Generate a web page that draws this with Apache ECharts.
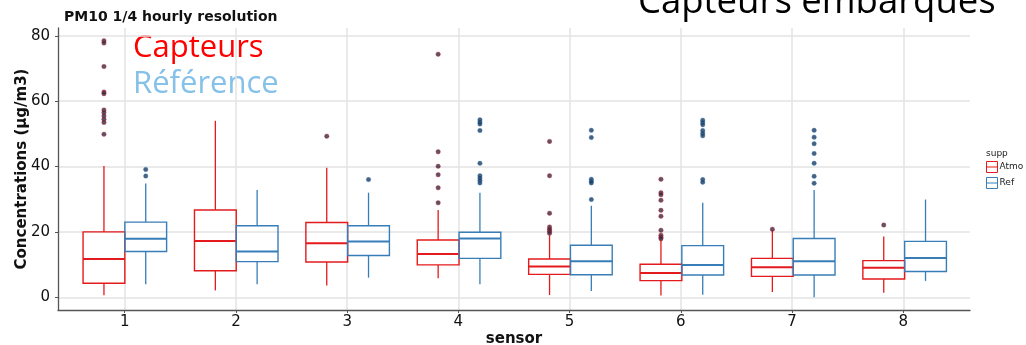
<!DOCTYPE html>
<html>
<head>
<meta charset="utf-8">
<script src="https://cdn.jsdelivr.net/npm/echarts@6/dist/echarts.min.js"></script>
<style>
  html, body { margin: 0; padding: 0; background: #fff; }
  #chart { width: 1026px; height: 345px; }
</style>
</head>
<body>
<div id="chart"></div>
<script>
const sensors = ['1', '2', '3', '4', '5', '6', '7', '8']

// [min, Q1, median, Q3, max]
const atmoBoxes = [
  [0.6, 4.3, 11.7, 20.0, 40.2],
  [2.1, 8.1, 17.2, 26.7, 54.0],
  [3.6, 10.8, 16.5, 22.9, 39.6],
  [5.8, 9.9, 13.2, 17.5, 26.7],
  [0.7, 7.0, 9.4, 11.7, 19.0],
  [0.5, 5.1, 7.4, 10.1, 17.5],
  [1.6, 6.4, 9.2, 11.9, 20.5],
  [1.4, 5.6, 9.0, 11.2, 18.6]
]
const refBoxes = [
  [4.0, 14.0, 17.9, 23.0, 34.8],
  [4.0, 10.9, 14.0, 21.9, 32.8],
  [6.0, 12.8, 17.1, 21.9, 32.0],
  [4.0, 11.9, 18.0, 19.9, 32.0],
  [1.9, 6.9, 11.0, 15.9, 28.0],
  [0.8, 6.8, 9.9, 15.8, 28.9],
  [0.0, 6.8, 11.0, 18.0, 32.8],
  [5.0, 7.9, 12.0, 17.1, 29.9]
]

const atmoOutliers = [
  [78.5, 77.8, 70.6, 62.8, 62.3, 57.3, 56.5, 55.5, 54.5, 53.5, 49.9],
  [],
  [49.3],
  [74.4, 44.5, 40.1, 37.5, 33.5, 28.9],
  [47.7, 37.2, 25.7, 21.5, 20.8, 20.2, 19.6],
  [36.1, 32.0, 31.4, 29.7, 26.6, 24.8, 20.5, 19.0, 18.4, 17.9],
  [20.8],
  [22.1]
]
const refOutliers = [
  [39.1, 37.1],
  [],
  [36.0],
  [54.3, 53.6, 53.0, 51.0, 41.0, 37.2, 36.5, 35.8, 35.0],
  [51.1, 48.9, 36.1, 35.5, 35.0, 29.9],
  [54.2, 53.5, 52.8, 51.0, 50.2, 49.4, 36.0, 35.2],
  [51.1, 49.0, 47.0, 44.0, 41.0, 37.0, 34.9],
  []
]

const yMin = -3.9
const yMax = 82.4

const atmoColor = '#e41a1c'
const refColor = '#377eb8'

const toPoints = (list) => {
  const pts = []
  list.forEach((vals, i) => vals.forEach(v => pts.push([i, v])))
  return pts
}

const chart = echarts.init(document.getElementById('chart'))

// band width of one sensor in px, boxes are dodged by a quarter of it
const band = 111.4
const plotLeft = 58
const plotRight = 970
const catLeft = plotLeft + 0.1 * band
const shift = band * 0.1875
const boxW = band * 0.375

const hiddenCat = (gridIndex) => ({
  type: 'category',
  gridIndex: gridIndex,
  data: sensors,
  show: false
})
const hiddenVal = (gridIndex) => ({
  type: 'value',
  gridIndex: gridIndex,
  min: yMin,
  max: yMax,
  show: false
})

// ggplot-like box: no whisker caps, thicker median
const boxRenderer = (color) => (params, api) => {
  const x = api.value(0)
  const pMin = api.coord([x, api.value(1)])
  const pQ1 = api.coord([x, api.value(2)])
  const pMed = api.coord([x, api.value(3)])
  const pQ3 = api.coord([x, api.value(4)])
  const pMax = api.coord([x, api.value(5)])
  const cx = pMed[0]
  const half = boxW / 2
  const stroke = { stroke: color, lineWidth: 1.3, fill: null }
  return {
    type: 'group',
    children: [
      { type: 'line', shape: { x1: cx, y1: pQ1[1], x2: cx, y2: pMin[1] }, style: stroke },
      { type: 'line', shape: { x1: cx, y1: pQ3[1], x2: cx, y2: pMax[1] }, style: stroke },
      { type: 'rect', shape: { x: cx - half, y: pQ3[1], width: boxW, height: pQ1[1] - pQ3[1] }, style: { stroke: color, lineWidth: 1.4, fill: 'rgba(255,255,255,0)' } },
      { type: 'line', shape: { x1: cx - half, y1: pMed[1], x2: cx + half, y2: pMed[1] }, style: { stroke: color, lineWidth: 2 } }
    ]
  }
}

const gridBase = { top: 28, bottom: 35, outerBoundsMode: 'none', containLabel: false }

const option = {
  animation: false,
  textStyle: { fontFamily: 'DejaVu Sans' },
  title: [
    {
      text: 'PM10 1/4 hourly resolution',
      left: 59,
      top: 5,
      textStyle: { fontSize: 14, fontWeight: 'bold', color: '#111', fontFamily: 'DejaVu Sans' }
    },
    {
      text: 'supp',
      left: 981,
      top: 144,
      textStyle: { fontSize: 9, fontWeight: 'normal', color: '#222', fontFamily: 'DejaVu Sans' }
    }
  ],
  legend: {
    data: [
      { name: 'Atmo', itemStyle: { borderColor: atmoColor } },
      { name: 'Ref', itemStyle: { borderColor: refColor } }
    ],
    orient: 'vertical',
    left: 986,
    top: 161,
    padding: 0,
    itemWidth: 11,
    itemHeight: 11,
    itemGap: 4,
    icon: 'path://M1,1H11V11H1Z M1,6H11',
    itemStyle: { color: 'transparent', borderWidth: 1 },
    textStyle: { fontSize: 9, color: '#222', padding: [0, 0, 0, -3] },
    selectedMode: false
  },
  graphic: [
    {
      type: 'text',
      left: 638,
      top: -16,
      style: { text: 'Capteurs embarqués', fontSize: 36.5, fontFamily: 'Open Sans', fill: '#000' }
    },
    {
      type: 'text',
      left: 133,
      top: 33,
      style: { text: 'Capteurs', fontSize: 31, fontFamily: 'Open Sans', fill: '#ff0000' }
    },
    {
      type: 'text',
      left: 133,
      top: 69,
      style: { text: 'Référence', fontSize: 31, fontFamily: 'Open Sans', fill: '#85c1e9' }
    }
  ],
  grid: [
    Object.assign({ left: plotLeft, right: 1026 - plotRight }, gridBase),
    Object.assign({ left: catLeft - shift, width: band * 8 }, gridBase),
    Object.assign({ left: catLeft + shift, width: band * 8 }, gridBase)
  ],
  xAxis: [
    {
      type: 'value',
      gridIndex: 0,
      min: 0.4,
      max: 8.6,
      splitNumber: 8,
      minInterval: 1,
      maxInterval: 1,
      name: 'sensor',
      nameLocation: 'middle',
      nameGap: 22,
      nameMoveOverlap: false,
      nameTextStyle: { fontSize: 15, fontWeight: 'bold', color: '#111', verticalAlign: 'top' },
      axisLine: { show: true, onZero: false, lineStyle: { color: '#555', width: 1.3 } },
      axisTick: { show: true, length: 3, lineStyle: { color: '#555' } },
      axisLabel: { fontSize: 15, color: '#111', margin: 5, showMinLabel: false, showMaxLabel: false },
      splitLine: { show: true, showMinLine: false, showMaxLine: false, lineStyle: { color: '#e3e3e3', width: 1.5 } }
    },
    hiddenCat(1),
    hiddenCat(2)
  ],
  yAxis: [
    {
      type: 'value',
      gridIndex: 0,
      min: yMin,
      max: yMax,
      name: 'Concentrations (µg/m3)',
      nameLocation: 'middle',
      nameGap: 28,
      nameMoveOverlap: false,
      nameTextStyle: { fontSize: 15, fontWeight: 'bold', color: '#111' },
      axisLine: { show: true, onZero: false, lineStyle: { color: '#555', width: 1.3 } },
      axisTick: { show: true, length: 3, lineStyle: { color: '#555' } },
      axisLabel: { fontSize: 15, color: '#111', margin: 8, showMinLabel: false, showMaxLabel: false },
      splitLine: { show: true, showMinLine: false, showMaxLine: false, lineStyle: { color: '#e3e3e3', width: 1.5 } }
    },
    hiddenVal(1),
    hiddenVal(2)
  ],
  series: [
    {
      name: 'Atmo',
      type: 'custom',
      xAxisIndex: 1,
      yAxisIndex: 1,
      renderItem: boxRenderer(atmoColor),
      itemStyle: { color: 'transparent', borderColor: atmoColor },
      encode: { x: 0, y: [1, 2, 3, 4, 5] },
      data: atmoBoxes.map((b, i) => [i].concat(b))
    },
    {
      name: 'Ref',
      type: 'custom',
      xAxisIndex: 2,
      yAxisIndex: 2,
      renderItem: boxRenderer(refColor),
      itemStyle: { color: 'transparent', borderColor: refColor },
      encode: { x: 0, y: [1, 2, 3, 4, 5] },
      data: refBoxes.map((b, i) => [i].concat(b))
    },
    {
      name: 'Atmo outliers',
      type: 'scatter',
      xAxisIndex: 1,
      yAxisIndex: 1,
      symbolSize: 4.5,
      itemStyle: { color: '#2e2a48', borderColor: 'rgba(228,26,28,0.55)', borderWidth: 0.8 },
      emphasis: { disabled: true },
      data: toPoints(atmoOutliers)
    },
    {
      name: 'Ref outliers',
      type: 'scatter',
      xAxisIndex: 2,
      yAxisIndex: 2,
      symbolSize: 4.5,
      itemStyle: { color: '#1c3a60', borderColor: 'rgba(55,126,184,0.55)', borderWidth: 0.8 },
      emphasis: { disabled: true },
      data: toPoints(refOutliers)
    }
  ]
}

chart.setOption(option)
</script>
</body>
</html>
